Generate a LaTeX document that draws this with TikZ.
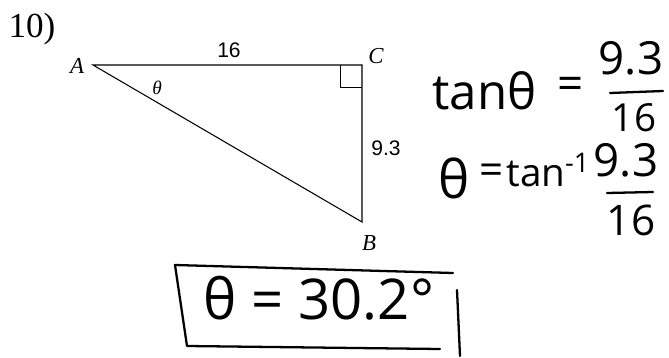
\documentclass[tikz,border=0pt]{standalone}
\usepackage{fontspec}
\newfontfamily\serifface{Liberation Serif}
\newfontfamily\sansface{Liberation Sans}
\newfontfamily\handface{Open Sans}
\usetikzlibrary{positioning}

\begin{document}
\begin{tikzpicture}[x=0.02cm, y=-0.02cm]
  \tikzset{
    vlabel/.style={font=\serifface\itshape\fontsize{13}{15}\selectfont, inner sep=0pt},
    side/.style={font=\sansface\fontsize{12}{14}\selectfont, inner sep=0pt},
    hand/.style={font=\handface\fontsize{#1}{#1}\selectfont, inner sep=0pt},
    ink/.style={line width=1.3pt, line cap=round, line join=round}}
  \useasboundingbox (0,0) rectangle (669,358);
  \node[font=\serifface\fontsize{20}{22}\selectfont, inner sep=0pt] (qnum) at (32,29) {10)};
  % the triangle
  \coordinate (A) at (93,65);
  \coordinate (C) at (362,65);
  \coordinate (B) at (362,222);
  \draw[line width=0.6pt] (A) -- (C) -- (B) -- cycle;
  \draw[line width=0.5pt] (340,65) |- (362,87);
  \node[vlabel] (lA) at (77,66) {A};
  \node[vlabel] (lC) at (376,56) {C};
  \node[vlabel] (lB) at (369,243) {B};
  \node[vlabel, font=\serifface\itshape\fontsize{11}{13}\selectfont] (ltheta) at (157,88) {θ};
  \node[side] (l16) at (229,50) {16};
  \node[side] (l93) at (386,148) {9.3};
  % handwritten working
  \node[hand=28, anchor=base west] (tan1) at (432,110) {tanθ};
  \node[hand=26] (eq1) at (571,88) {=};
  \node[hand=26] (num1) at (631,58) {9.3};
  \draw[ink] (610,93) -- (663,91);
  \node[hand=22] (den1) at (634,118) {16};
  \node[hand=30] (th2) at (454,178) {θ};
  \node[hand=24] (eq2) at (492,174) {=};
  \node[hand=22, anchor=base west] (tan2) at (506,186) {tan\textsuperscript{-1}};
  \node[hand=26] (num2) at (626,160) {9.3};
  \draw[ink] (607,193) -- (653,192);
  \node[hand=24] (den2) at (631,220) {16};
  % boxed answer
  \node[hand=32] (ans) at (319,298) {θ = 30.2°};
  \draw[ink] (453,273) -- (175,265) -- (187,346) -- (440,349);
  \draw[ink] (457,290) -- (460,356);
\end{tikzpicture}
\end{document}
